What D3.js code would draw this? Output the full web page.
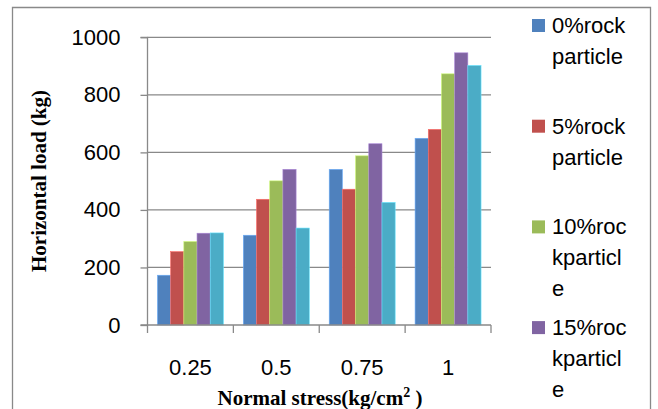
<!DOCTYPE html>
<html>
<head>
<meta charset="utf-8">
<script src="https://cdn.jsdelivr.net/npm/d3@7"></script>
<style>
  html, body { margin: 0; padding: 0; background: #fff; }
  svg { display: block; }
</style>
</head>
<body>
<svg id="chart" width="658" height="409"></svg>
<script>
// ---- data ----
const categories = ["0.25", "0.5", "0.75", "1"];
const seriesNames = ["0%rock particle", "5%rock particle", "10%rockparticle", "15%rockparticle", "20%rockparticle"];
const values0 = [173, 312, 541, 649];
const values5 = [255, 437, 472, 680];
const values10 = [290, 501, 588, 873];
const values15 = [319, 541, 630, 946];
const values20 = [320, 337, 426, 902];
const seriesValues = [values0, values5, values10, values15, values20];
const yTicks = [0, 200, 400, 600, 800, 1000];
const colors = ["#4F81BD", "#C0504D", "#9BBB59", "#8064A2", "#4BACC6"];

const svg = d3.select("#chart");
const W = 658, H = 409;
const grey = "#898989";

// outer frame (bottom edge lies outside the visible area)
svg.append("path")
  .attr("d", "M12.5,420 V7.5 H650.5 V420")
  .attr("fill", "none").attr("stroke", grey).attr("stroke-width", 1.3);

const plotL = 147.5, plotR = 491, plotT = 37.3, plotB = 325;

const x = d3.scaleBand().domain(categories).range([plotL, plotR]).paddingInner(0.232).paddingOuter(0.116);
const xs = d3.scaleBand().domain(d3.range(seriesNames.length)).range([0, x.bandwidth()]).padding(0);
const y = d3.scaleLinear().domain([0, 1000]).range([plotB, plotT]);

// gridlines
svg.append("g").selectAll("line").data(yTicks.filter(d => d > 0)).join("line")
  .attr("x1", plotL).attr("x2", plotR)
  .attr("y1", d => y(d)).attr("y2", d => y(d))
  .attr("stroke", grey).attr("stroke-width", 1.3);

// bars
const rows = [];
categories.forEach((c, i) => {
  seriesValues.forEach((vals, s) => rows.push({ c, s, v: vals[i] }));
});
svg.append("g").selectAll("rect").data(rows).join("rect")
  .attr("x", d => x(d.c) + xs(d.s))
  .attr("width", xs.bandwidth())
  .attr("y", d => y(d.v))
  .attr("height", d => y(0) - y(d.v))
  .attr("fill", d => colors[d.s])
  .attr("stroke", d => d3.color(colors[d.s]).brighter(0.8))
  .attr("stroke-width", 0.6);

// y axis
const yAxis = d3.axisLeft(y).tickValues(yTicks).tickSize(7).tickPadding(20).tickFormat(d3.format("d"));
const gy = svg.append("g").attr("transform", `translate(${plotL},0)`).call(yAxis);
gy.select(".domain").attr("stroke", grey).attr("stroke-width", 1.3).attr("d", `M-7,${plotT}H0V${plotB}H-7`);
gy.selectAll(".tick line").attr("stroke", grey).attr("stroke-width", 1.3);
gy.selectAll(".tick text")
  .attr("font-family", "'Liberation Sans', Arial, sans-serif")
  .attr("font-size", 22).attr("fill", "#000");

// x axis
const xAxis = d3.axisBottom(x).tickSize(0).tickPadding(34);
const gx = svg.append("g").attr("transform", `translate(0,${plotB})`).call(xAxis);
gx.select(".domain").attr("stroke", grey).attr("stroke-width", 1.3).attr("d", `M${plotL},0H${plotR}`);
gx.selectAll(".tick text")
  .attr("font-family", "'Liberation Sans', Arial, sans-serif")
  .attr("font-size", 22).attr("fill", "#000");
// category boundary tick marks
const bounds = categories.map(c => x(c) - x.step() * x.paddingInner() / 2).concat([plotR]);
bounds[0] = plotL;
svg.append("g").selectAll("line").data(bounds).join("line")
  .attr("x1", d => d).attr("x2", d => d)
  .attr("y1", plotB).attr("y2", plotB + 8)
  .attr("stroke", grey).attr("stroke-width", 1.3);

// axis titles
const xt = svg.append("text")
  .attr("x", 320).attr("y", 405)
  .attr("text-anchor", "middle")
  .attr("font-family", "'Liberation Serif', 'Times New Roman', serif")
  .attr("font-weight", "bold").attr("font-size", 21).attr("fill", "#000");
xt.append("tspan").text("Normal stress(kg/cm");
xt.append("tspan").attr("font-size", 14).attr("dy", -8).text("2");
xt.append("tspan").attr("dy", 8).text(" )");

svg.append("text")
  .attr("transform", "translate(46,181) rotate(-90)")
  .attr("text-anchor", "middle")
  .attr("font-family", "'Liberation Serif', 'Times New Roman', serif")
  .attr("font-weight", "bold").attr("font-size", 21).attr("fill", "#000")
  .text("Horizontal load (kg)");

// legend (entries that fall below the visible area are clipped off, as in the original)
const legendX = 532, legendTextX = 552, firstBase = 33, entryStep = 100.7, lineH = 31, maxW = 79;
const lg = svg.append("g");
seriesNames.forEach((name, i) => {
  const base = firstBase + i * entryStep;
  if (base > H) return;
  lg.append("rect")
    .attr("x", legendX).attr("y", base - 14)
    .attr("width", 13).attr("height", 13)
    .attr("fill", colors[i]);
  const t = lg.append("text")
    .attr("x", legendTextX).attr("y", base)
    .attr("font-family", "'Liberation Sans', Arial, sans-serif")
    .attr("font-size", 22).attr("fill", "#000");
  // wrap: by words, then by characters
  const measure = s => { t.text(s); return t.node().getComputedTextLength(); };
  const lines = [];
  let cur = "";
  name.split(" ").forEach(word => {
    const cand = cur ? cur + " " + word : word;
    if (measure(cand) <= maxW) { cur = cand; return; }
    if (cur) { lines.push(cur); cur = ""; }
    let piece = "";
    for (const ch of word) {
      if (measure(piece + ch) <= maxW) piece += ch;
      else { lines.push(piece); piece = ch; }
    }
    cur = piece;
  });
  if (cur) lines.push(cur);
  t.text(null);
  lines.forEach((ln, k) => {
    t.append("tspan").attr("x", legendTextX).attr("y", base + k * lineH).text(ln);
  });
});
</script>
</body>
</html>
